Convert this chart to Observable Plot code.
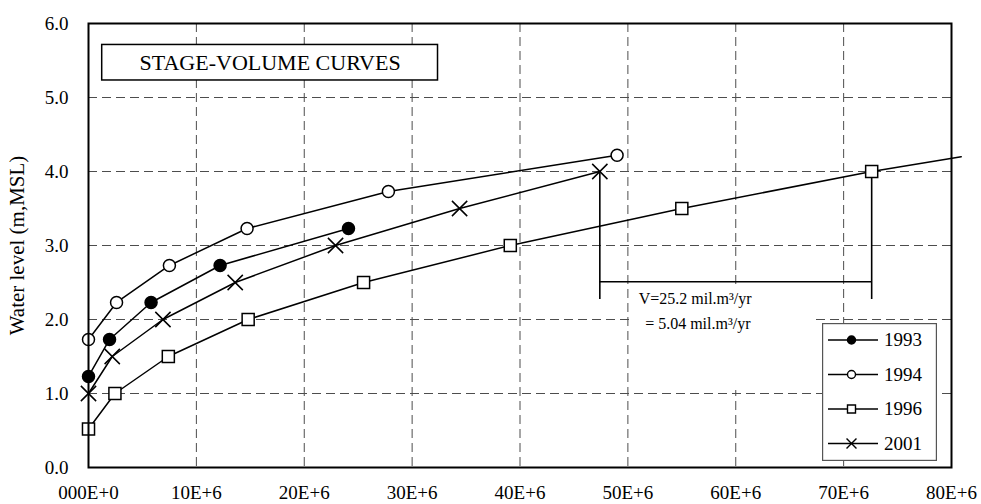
<!DOCTYPE html>
<html>
<head>
<meta charset="utf-8">
<script src="https://cdn.jsdelivr.net/npm/d3@7"></script>
<script src="https://cdn.jsdelivr.net/npm/@observablehq/plot@0.6"></script>
<style>
  body { margin: 0; background: #fff; }
  #chart { position: relative; width: 981px; height: 504px; font-family: "Liberation Serif", "Times New Roman", serif; }
  #legend { position: absolute; left: 822px; top: 323px; }
</style>
</head>
<body>
<div id="chart"></div>
<script>
// Stage-volume curves: storage volume (m³) against water level (m, MSL)
const years = ["1993", "1994", "1996", "2001"];

const volume1993 = [0, 1.95e6, 5.8e6, 12.2e6, 24.1e6];
const level1993  = [1.23, 1.73, 2.23, 2.73, 3.23];

const volume1994 = [0, 2.6e6, 7.5e6, 14.7e6, 27.8e6, 49.0e6];
const level1994  = [1.73, 2.23, 2.73, 3.23, 3.73, 4.22];

const volume1996 = [0, 2.45e6, 7.4e6, 14.8e6, 25.5e6, 39.1e6, 55.0e6, 72.6e6];
const level1996  = [0.52, 1.0, 1.5, 2.0, 2.5, 3.0, 3.5, 4.0];

const volume2001 = [0, 2.2e6, 6.9e6, 13.6e6, 22.9e6, 34.4e6, 47.4e6];
const level2001  = [1.0, 1.5, 2.0, 2.5, 3.0, 3.5, 4.0];

// the 1996 curve is carried on past the right edge of the frame
const trend1996 = { volume: 80.9e6, level: 4.2 };

const xTicks = [0, 10e6, 20e6, 30e6, 40e6, 50e6, 60e6, 70e6, 80e6];
const xTickLabels = ["000E+0", "10E+6", "20E+6", "30E+6", "40E+6", "50E+6", "60E+6", "70E+6", "80E+6"];
const yTicks = [0, 1, 2, 3, 4, 5, 6];
const yTickLabels = ["0.0", "1.0", "2.0", "3.0", "4.0", "5.0", "6.0"];

const titleText = "STAGE-VOLUME CURVES";
const yLabel = "Water level (m,MSL)";

// volume lost between 2001 and 1996 at the 4.0 m level
const bracketVolumes = [47.4e6, 72.6e6];
const bracketTop = 4.0;
const bracketLevel = 2.51;
const bracketFoot = 2.27;
const noteLines = ["V=25.2 mil.m³/yr", "= 5.04 mil.m³/yr"];

const series = [
  { year: years[0], volume: volume1993, level: level1993, symbol: "circle", fill: "black", r: 6 },
  { year: years[1], volume: volume1994, level: level1994, symbol: "circle", fill: "white", r: 6 },
  { year: years[2], volume: volume1996, level: level1996, symbol: "square", fill: "white", r: 6.8 },
  { year: years[3], volume: volume2001, level: level2001, symbol: "times", fill: "none", r: 7 }
];

const rows = series.flatMap(s => s.volume.map((v, i) => ({ year: s.year, volume: v, level: s.level[i] })));
const lineRows = rows.concat([{ year: years[2], volume: trend1996.volume, level: trend1996.level }]);

const titleBox = [{ x1: 1.27e6, x2: 32.4e6, y1: 5.23, y2: 5.71 }];
const noteBox = [{ x1: 50.4e6, x2: 67.4e6, y1: 1.04, y2: 2.46 }];
const noteText = [
  { x: 51.0e6, y: 2.275, text: noteLines[0] },
  { x: 51.6e6, y: 1.947, text: noteLines[1] }
];

const serif = "Liberation Serif, Times New Roman, serif";
const gridStyle = { stroke: "#4d4d4d", strokeOpacity: 1, strokeWidth: 1, strokeDasharray: "9,5" };

const chart = Plot.plot({
  width: 981,
  height: 504,
  marginLeft: 88,
  marginRight: 30,
  marginTop: 23,
  marginBottom: 37,
  style: { fontFamily: serif, fontSize: "19px", color: "black", background: "white", overflow: "visible" },
  x: { domain: [0, 80e6], label: null },
  y: { domain: [0, 6], label: null },
  marks: [
    Plot.gridX(xTicks, gridStyle),
    Plot.gridY(yTicks, gridStyle),
    Plot.rect(noteBox, { x1: "x1", x2: "x2", y1: "y1", y2: "y2", fill: "white" }),
    Plot.rect(titleBox, { x1: "x1", x2: "x2", y1: "y1", y2: "y2", fill: "white", stroke: "black", strokeWidth: 1.5 }),
    Plot.text([titleText], { x: (titleBox[0].x1 + titleBox[0].x2) / 2, y: (titleBox[0].y1 + titleBox[0].y2) / 2, fontSize: 22, fontFamily: serif, fill: "black" }),
    Plot.ruleX(bracketVolumes, { x: d => d, y1: bracketFoot, y2: bracketTop, stroke: "black", strokeWidth: 1.6 }),
    Plot.ruleY([bracketLevel], { x1: bracketVolumes[0], x2: bracketVolumes[1], stroke: "black", strokeWidth: 1.6 }),
    Plot.text(noteText, { x: "x", y: "y", text: "text", textAnchor: "start", fontSize: 16, fontFamily: serif, fill: "black" }),
    Plot.line(lineRows, { x: "volume", y: "level", z: "year", stroke: "black", strokeWidth: 1.5 }),
    ...series.map(s => Plot.dot(rows.filter(d => d.year === s.year), {
      x: "volume", y: "level", symbol: s.symbol, r: s.r,
      fill: s.fill, stroke: "black", strokeWidth: 1.5
    })),
    Plot.frame({ stroke: "black", strokeWidth: 2 }),
    Plot.axisX({ ticks: xTicks, tickFormat: d => xTickLabels[xTicks.indexOf(d)], tickSize: 0, tickPadding: 18, label: null }),
    Plot.axisY({ ticks: yTicks, tickFormat: d => yTickLabels[yTicks.indexOf(d)], tickSize: 0, tickPadding: 20, label: null }),
    Plot.text([yLabel], { frameAnchor: "left", textAnchor: "middle", dx: -71, rotate: -90, fontSize: 21, fontFamily: serif, fill: "black" })
  ]
});

const host = document.getElementById("chart");
host.appendChild(chart);

// legend box with a sample line and marker for each year
const legendSymbols = { circle: d3.symbolCircle, square: d3.symbolSquare, times: d3.symbolTimes };
const legendSizes = { circle: Math.PI * 4 * 4, square: 8 * 8, times: Math.PI * 4.6 * 4.6 };
const legend = d3.create("svg")
  .attr("id", "legend")
  .attr("width", 115)
  .attr("height", 138);
legend.append("rect")
  .attr("x", 0.6).attr("y", 0.6).attr("width", 113.8).attr("height", 136.8)
  .attr("fill", "white").attr("stroke", "#555").attr("stroke-width", 1.2);
const rowY = d3.scaleLinear().domain([0, series.length - 1]).range([17, 120.5]);
series.forEach((s, i) => {
  const g = legend.append("g").attr("transform", `translate(0,${rowY(i)})`);
  g.append("line").attr("x1", 6).attr("x2", 56).attr("stroke", "black").attr("stroke-width", 1.5);
  g.append("path")
    .attr("transform", "translate(29.5,0)")
    .attr("d", d3.symbol(legendSymbols[s.symbol], legendSizes[s.symbol])())
    .attr("fill", s.fill).attr("stroke", "black").attr("stroke-width", 1.4);
  g.append("text")
    .attr("x", 62).attr("dy", "0.34em")
    .attr("font-family", serif)
    .attr("font-size", 19)
    .text(s.year);
});
host.appendChild(legend.node());
</script>
</body>
</html>
